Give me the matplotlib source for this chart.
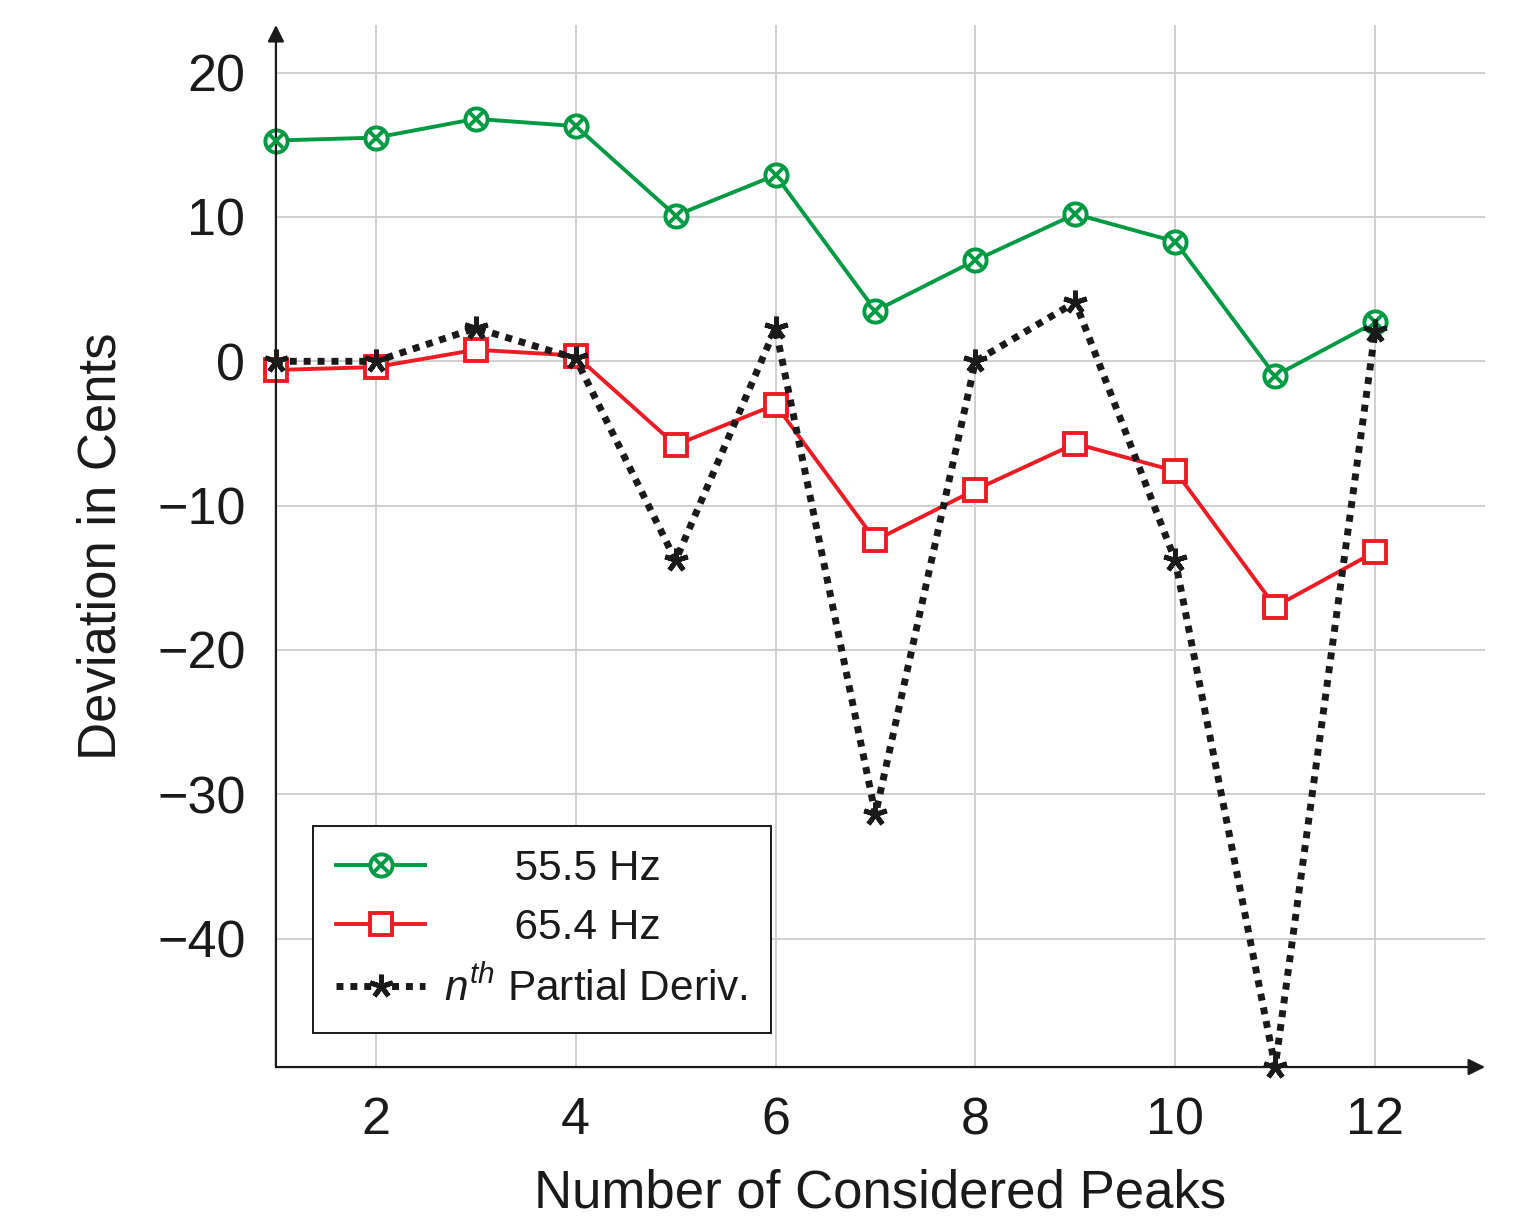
import matplotlib.pyplot as plt
from matplotlib.legend_handler import HandlerTuple

plt.rcParams['font.family'] = ['Liberation Sans', 'DejaVu Sans']
plt.rcParams['mathtext.fontset'] = 'custom'
plt.rcParams['mathtext.it'] = 'Liberation Sans:italic'
plt.rcParams['mathtext.rm'] = 'Liberation Sans'

# data
peaks = [1, 2, 3, 4, 5, 6, 7, 8, 9, 10, 11, 12]
dev_555 = [15.3, 15.5, 16.8, 16.3, 10.1, 12.9, 3.5, 7.0, 10.2, 8.3, -1.0, 2.7]
dev_654 = [-0.6, -0.4, 0.8, 0.4, -5.8, -3.0, -12.4, -8.9, -5.7, -7.6, -17.0, -13.2]
dev_partial = [0.0, 0.0, 2.3, 0.2, -13.8, 2.3, -31.4, 0.0, 4.1, -13.8, -48.9, 2.1]
xticks = [2, 4, 6, 8, 10, 12]
yticks = [20, 10, 0, -10, -20, -30, -40]

green = '#009a44'
red = '#ec1c24'
dark = '#1a1a1a'

fig = plt.figure(figsize=(15.27, 12.16), dpi=100)
ax = fig.add_axes([0.1807, 0.1225, 0.7918, 0.8569])

g1, = ax.plot(peaks, dev_555, color=green, lw=2.8, marker='o', ms=16,
              mfc='white', mec=green, mew=2.8, zorder=3, clip_on=False)
g2, = ax.plot(peaks, dev_555, ls='none', marker='x', ms=10, mec=green,
              mew=2.8, zorder=4, clip_on=False)
r1, = ax.plot(peaks, dev_654, color=red, lw=2.8, marker='s', ms=15.5,
              mfc='white', mec=red, mew=2.8, zorder=3, clip_on=False)
k1, = ax.plot(peaks, dev_partial, color=dark, lw=5, ls=(0, (1, 1)),
              marker=(5, 2, 0), ms=17, mew=3.5, mec=dark, zorder=5,
              clip_on=False)

ax.set_xlim(1, 13.1)
ax.set_ylim(-48.9, 23.3)
ax.set_xticks(xticks)
ax.set_yticks(yticks)
ax.tick_params(length=0, labelsize=37.5, colors=dark)
ax.tick_params(axis='y', pad=22)
ax.tick_params(axis='x', pad=21)
ax.grid(True, color='#cccccc', lw=1.3)
ax.set_axisbelow(True)
for s in ax.spines.values():
    s.set_visible(False)

# axis arrows
ax.annotate('', xy=(1.0, 0), xytext=(0, 0), xycoords='axes fraction',
            arrowprops=dict(arrowstyle='-|>', color=dark, lw=1.6,
                            mutation_scale=25, shrinkA=0, shrinkB=0))
ax.annotate('', xy=(0, 1.0), xytext=(0, 0), xycoords='axes fraction',
            arrowprops=dict(arrowstyle='-|>', color=dark, lw=1.6,
                            mutation_scale=25, shrinkA=0, shrinkB=0))

ax.set_xlabel('Number of Considered Peaks', fontsize=38, color=dark, labelpad=17)
ax.set_ylabel('Deviation in Cents', fontsize=38, color=dark, labelpad=22)

leg = ax.legend([(g1, g2), r1, k1],
                ['      55.5 Hz', '      65.4 Hz', '$n^{th}$ Partial Deriv.'],
                handler_map={tuple: HandlerTuple(ndivide=1, pad=0)},
                loc='lower left', bbox_to_anchor=(0.0306, 0.0326),
                borderaxespad=0, fontsize=30.5, handlelength=2.1,
                handletextpad=0.45, borderpad=0.55, labelspacing=0.45,
                fancybox=False, framealpha=1, edgecolor=dark)
leg.get_frame().set_linewidth(1.4)
for t in leg.get_texts():
    t.set_color(dark)

fig.savefig('out.png', dpi=100)
